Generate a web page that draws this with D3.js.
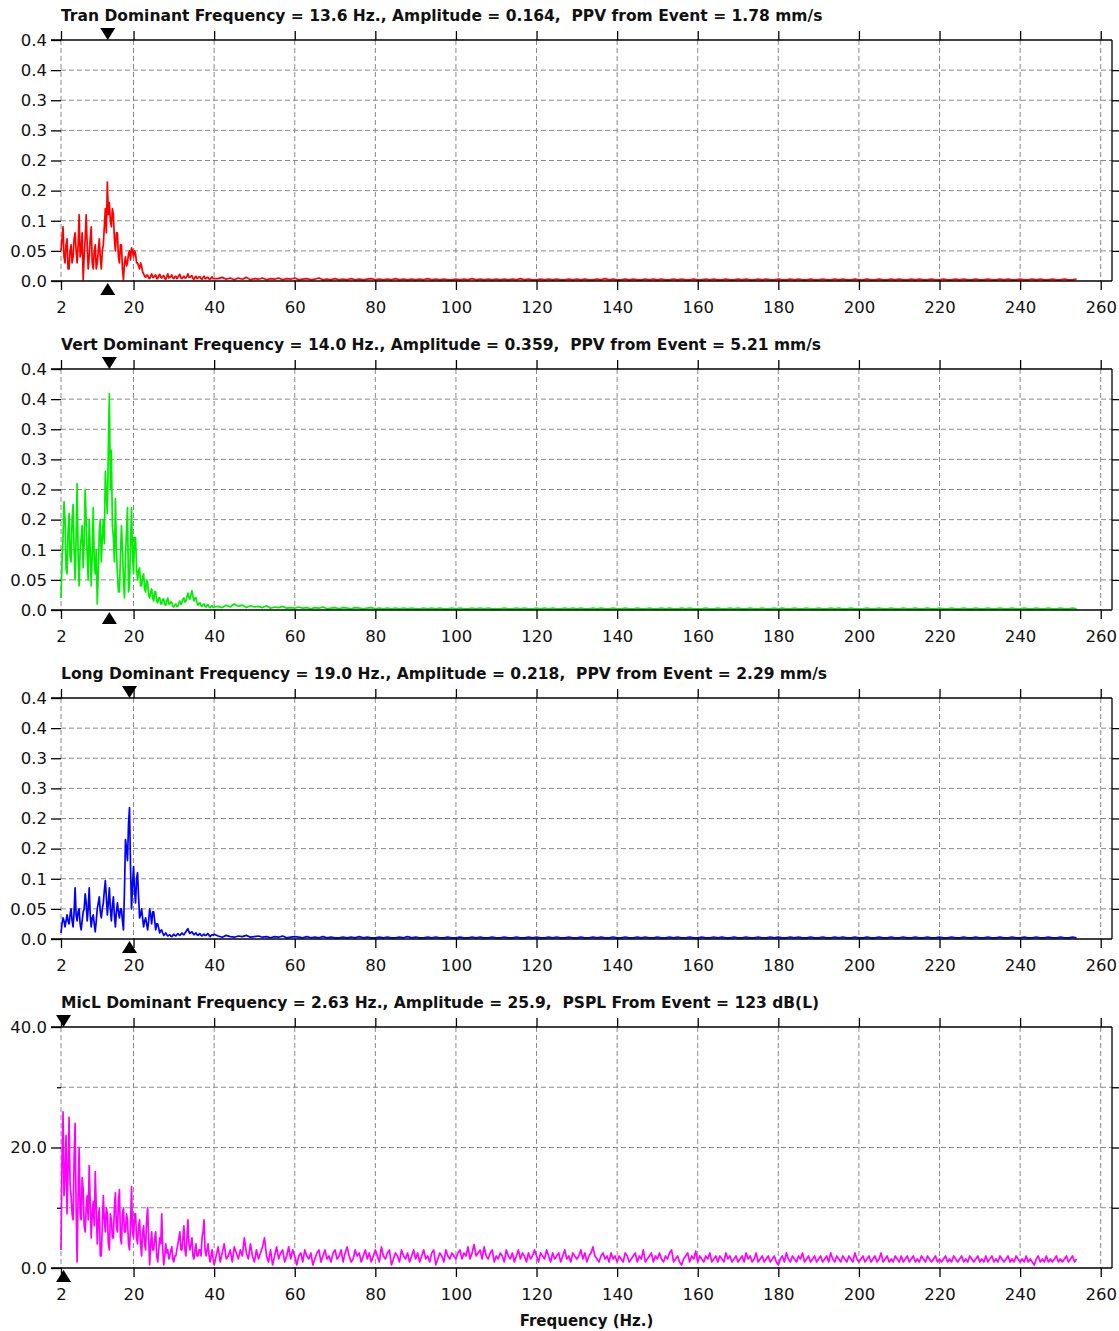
<!DOCTYPE html>
<html><head><meta charset="utf-8">
<script src="https://cdn.jsdelivr.net/npm/d3@7/dist/d3.min.js"></script>
<style>body{margin:0;background:#fff}svg{display:block}</style>
</head><body>
<svg id="chart" width="1119" height="1331"></svg>
<script>
// ---------- data ----------
const channels = ["Tran", "Vert", "Long", "MicL"];
const titles = [
  "Tran Dominant Frequency = 13.6 Hz., Amplitude = 0.164,  PPV from Event = 1.78 mm/s",
  "Vert Dominant Frequency = 14.0 Hz., Amplitude = 0.359,  PPV from Event = 5.21 mm/s",
  "Long Dominant Frequency = 19.0 Hz., Amplitude = 0.218,  PPV from Event = 2.29 mm/s",
  "MicL Dominant Frequency = 2.63 Hz., Amplitude = 25.9,  PSPL From Event = 123 dB(L)"
];
const dominantFreq = [13.6, 14.0, 19.0, 2.63];
const colors = ["#ff0000", "#00ee00", "#0000ff", "#ff00ff"];
const xTicks = [2, 20, 40, 60, 80, 100, 120, 140, 160, 180, 200, 220, 240, 260];
const xTitle = "Frequency (Hz.)";
const seisYTicks = [0, 0.05, 0.1, 0.15, 0.2, 0.25, 0.3, 0.35, 0.4];
const seisYLabels = ["0.0", "0.05", "0.1", "0.2", "0.2", "0.3", "0.3", "0.4", "0.4"];
const micYTicks = [0, 10, 20, 30, 40];
const micYMajor = [0, 20, 40];
const micYLabels = ["0.0", "20.0", "40.0"];

// low band: 2.00 .. 40.00 Hz every 0.25 Hz (all channels)
const lowStart = 2, lowStep = 0.25;
// high band: seismic 41 .. 254 Hz every 1 Hz ; mic 40.5 .. 254 Hz every 0.5 Hz
const highStart = [41, 41, 41, 40.5];
const highStep = [1, 1, 1, 0.5];

const tranLow = [
 .05,.07,.09,.04,.03,.06,.07,.02,
 .02,.05,.06,.03,.04,.07,.08,.05,
 .03,.06,.11,.04,.05,.08,.002,.04,
 .07,.11,.06,.02,.04,.07,.09,.03,
 .02,.05,.06,.02,.03,.05,.07,.04,
 .02,.05,.06,.09,.12,.08,.164,.11,
 .13,.1,.09,.12,.11,.07,.05,.08,
 .08,.04,.03,.06,.06,.02,.002,.03,
 .04,.025,.03,.045,.05,.035,.055,.05,
 .04,.05,.045,.03,.03,.025,.02,.03,
 .025,.015,.012,.008,.006,.01,.01,.005,
 .004,.008,.012,.006,.006,.009,.01,.004,
 .004,.009,.011,.006,.005,.008,.009,.004,
 .003,.007,.012,.005,.006,.008,.01,.005,
 .004,.007,.008,.004,.006,.009,.011,.005,
 .004,.006,.008,.005,.005,.008,.012,.006,
 .006,.008,.009,.004,.003,.006,.008,.004,
 .005,.007,.007,.004,.003,.006,.008,.004,
 .004,.006,.006,.003,.003,.005,.007,.004,
 .004];
const tranHigh = [
 .004,.006,.003,.005,.002,.005,.003,.006,.002,.004,
 .003,.005,.002,.004,.003,.005,.002,.004,.003,.005,
 .002,.003,.004,.002,.003,.005,.002,.003,.002,.004,
 .002,.003,.002,.004,.002,.003,.002,.003,.004,.002,
 .003,.002,.003,.002,.004,.002,.003,.002,.003,.002,
 .003,.002,.004,.002,.003,.002,.003,.002,.002,.003,
 .002,.003,.002,.004,.002,.003,.002,.003,.002,.003,
 .002,.003,.002,.003,.002,.004,.002,.003,.002,.002,
 .003,.002,.003,.002,.003,.002,.002,.003,.002,.003,
 .002,.003,.002,.002,.003,.002,.004,.002,.003,.002,
 .002,.003,.002,.003,.002,.002,.003,.002,.003,.002,
 .003,.002,.002,.003,.002,.003,.002,.002,.003,.002,
 .002,.003,.002,.003,.002,.002,.003,.002,.002,.003,
 .002,.003,.002,.002,.003,.002,.003,.002,.002,.003,
 .002,.002,.003,.002,.003,.002,.002,.003,.002,.002,
 .003,.002,.002,.003,.002,.003,.002,.002,.003,.002,
 .002,.003,.002,.002,.003,.002,.002,.003,.002,.003,
 .002,.002,.003,.002,.003,.002,.002,.003,.002,.002,
 .003,.002,.002,.003,.002,.003,.002,.002,.003,.002,
 .002,.003,.002,.002,.003,.002,.003,.002,.002,.003,
 .002,.002,.003,.002,.003,.002,.002,.003,.002,.002,
 .003,.002,.002,.003];

const vertLow = [
 .02,.08,.12,.18,.15,.07,.06,.13,
 .16,.09,.08,.15,.175,.1,.05,.12,
 .21,.09,.04,.1,.12,.14,.07,.11,
 .2,.15,.09,.05,.15,.1,.04,.09,
 .17,.08,.06,.1,.01,.06,.13,.15,
 .08,.12,.15,.11,.23,.19,.16,.27,
 .359,.2,.265,.14,.12,.08,.185,.1,
 .06,.03,.03,.09,.14,.1,.05,.02,
 .09,.13,.17,.03,.04,.11,.17,.09,
 .06,.12,.12,.07,.05,.065,.07,.04,
 .04,.055,.06,.035,.03,.05,.045,.025,
 .02,.03,.035,.02,.015,.03,.03,.015,
 .012,.02,.02,.01,.01,.018,.018,.009,
 .008,.015,.02,.01,.01,.014,.012,.006,
 .005,.008,.01,.006,.006,.012,.015,.009,
 .012,.018,.02,.013,.015,.022,.028,.02,
 .018,.026,.032,.022,.015,.02,.02,.012,
 .008,.011,.012,.007,.006,.009,.01,.006,
 .005,.008,.009,.005,.004,.006,.007,.004,
 .005];
const vertHigh = [
 .006,.004,.008,.005,.01,.006,.008,.004,.007,.005,
 .006,.004,.007,.003,.005,.004,.006,.003,.004,.003,
 .005,.003,.004,.002,.004,.003,.005,.002,.003,.004,
 .002,.004,.003,.002,.004,.003,.002,.003,.004,.002,
 .003,.002,.003,.002,.003,.002,.003,.002,.003,.002,
 .002,.003,.002,.003,.002,.003,.002,.002,.003,.002,
 .003,.002,.002,.003,.002,.003,.002,.003,.002,.002,
 .002,.003,.002,.002,.003,.002,.003,.002,.002,.003,
 .002,.003,.002,.003,.002,.002,.003,.002,.003,.002,
 .003,.002,.002,.003,.002,.003,.002,.002,.003,.002,
 .002,.003,.002,.002,.003,.002,.002,.003,.002,.002,
 .003,.002,.003,.002,.002,.003,.002,.003,.002,.002,
 .002,.003,.002,.002,.003,.002,.002,.003,.002,.003,
 .002,.002,.003,.002,.002,.003,.002,.002,.003,.002,
 .003,.002,.002,.003,.002,.002,.003,.002,.002,.003,
 .002,.002,.003,.002,.003,.002,.002,.003,.002,.002,
 .002,.003,.002,.002,.003,.002,.002,.003,.002,.002,
 .003,.002,.002,.003,.002,.002,.003,.002,.002,.003,
 .002,.002,.003,.002,.002,.003,.002,.002,.003,.002,
 .002,.003,.002,.002,.003,.002,.002,.003,.002,.002,
 .003,.002,.002,.003,.002,.002,.003,.002,.002,.003,
 .002,.002,.003,.002];

const longLow = [
 .01,.025,.035,.03,.02,.03,.04,.03,
 .025,.04,.05,.03,.02,.045,.085,.04,
 .03,.045,.05,.025,.015,.03,.045,.05,
 .075,.06,.03,.05,.085,.04,.02,.035,
 .04,.025,.012,.03,.05,.06,.07,.045,
 .035,.05,.06,.08,.097,.07,.04,.06,
 .085,.05,.03,.055,.07,.04,.02,.045,
 .06,.045,.035,.05,.05,.03,.015,.08,
 .165,.15,.13,.19,.218,.12,.05,.09,
 .12,.08,.06,.1,.11,.07,.035,.04,
 .05,.035,.02,.03,.035,.025,.015,.03,
 .05,.04,.025,.045,.045,.03,.015,.025,
 .025,.018,.01,.014,.015,.01,.006,.008,
 .01,.007,.005,.006,.007,.005,.004,.006,
 .008,.006,.005,.007,.009,.007,.006,.008,
 .01,.008,.007,.01,.012,.015,.017,.012,
 .009,.011,.012,.009,.007,.009,.01,.007,
 .006,.008,.009,.006,.005,.007,.008,.006,
 .006,.008,.009,.006,.004,.006,.007,.006,
 .008];
const longHigh = [
 .005,.003,.006,.004,.003,.005,.004,.006,.003,.004,
 .005,.003,.004,.002,.004,.003,.005,.002,.003,.004,
 .003,.002,.004,.002,.003,.002,.004,.002,.003,.002,
 .002,.003,.002,.003,.002,.004,.002,.003,.002,.002,
 .003,.002,.003,.002,.002,.003,.002,.004,.002,.003,
 .002,.002,.003,.002,.003,.002,.002,.003,.002,.002,
 .003,.002,.002,.003,.002,.003,.002,.002,.003,.002,
 .002,.003,.002,.002,.003,.002,.002,.003,.002,.003,
 .002,.002,.003,.002,.003,.002,.002,.003,.002,.002,
 .003,.002,.002,.003,.002,.003,.002,.002,.003,.002,
 .002,.003,.002,.002,.003,.002,.003,.002,.002,.003,
 .002,.002,.003,.002,.003,.002,.002,.003,.002,.002,
 .003,.002,.002,.003,.002,.003,.002,.002,.003,.002,
 .002,.003,.002,.002,.003,.002,.002,.003,.002,.003,
 .002,.002,.003,.002,.003,.002,.002,.003,.002,.002,
 .003,.002,.002,.003,.002,.003,.002,.002,.003,.002,
 .002,.003,.002,.002,.003,.002,.002,.003,.002,.002,
 .003,.002,.002,.003,.002,.002,.003,.002,.002,.003,
 .002,.002,.003,.002,.002,.003,.002,.002,.003,.002,
 .002,.003,.002,.002,.003,.002,.002,.003,.002,.002,
 .003,.002,.002,.003,.002,.002,.003,.002,.002,.003,
 .002,.002,.003,.002];

const micLow = [
 3,18,25.9,12,15,22,9,16,
 25,14,12,9,8,18,24,10,
 1,12,20,9,8,15,13,7,
 6,10,12,8,17,11,5,9,
 11,7,16,10,4,8,10,2,
 2,7,12,8,6,10,9,4,
 3,9,8,5,5,10,12.5,7,
 6,11,13,5,4,9,10,6,
 6,9,8,4,3,7,13.5,6,
 5,9,9,5,4,7,8,4,
 2,6,7,4,3,8,10,5,
 0.5,4,6,3,3,5,6,2,
 1,3,5,4,9,3,0.5,2,
 4,2.5,3,1.5,2,3,3.5,1.5,
 1,2,2,3,4,5,6,3,
 3,5,7,3,2,5,8,4,
 3,4,5,2,1.5,3,4,2,
 2,3,3,2,5,6,8,3,
 2,3,4,2,1,2,3,1.5,
 0.5];
const micHigh = [
 2,3.5,1,2.5,4,1.5,2,3,1,3.5,2.5,1.5,3,2,5,2.5,1.5,4,2,1,
 3,1.5,2.5,3.5,5,2,1,3,0.5,2,3.5,1.5,2.5,3,1,2,3.5,1.5,3,2,
 0.5,2,2.5,1,3,2,1.5,2.5,0.5,1.5,2.5,3,1,2,3,1.5,2,1,2.5,3,
 1.5,2,3,1,2.5,3.5,2,1,1.5,3,2,2.5,1,2,3,1.5,2.5,1,2,3,
 2,1,3.5,2,1.5,2.5,3,0.5,1.5,2.5,2,1,3,2,1.5,2.5,1,2,3,1.5,
 2.5,1,2,3,1.5,2,1,2.5,3,0.5,1.5,2.5,2,1,3,2,1.5,2.5,2,1.5,
 2.5,3,1.5,2.5,2,3.5,1.5,2.5,3.9,2,2.5,3,1.5,3.5,2,1.5,2.5,3,1,2,
 1.5,2.5,2,1,3,2,1.5,2.5,1,2,3,1.5,2.5,2,1,2.5,1.5,2,3,2,
 1,2.5,2,1.5,3,2,1,2.5,1.5,2,2.5,1,2,3,1.5,2,1,2.5,2,1.5,
 2,3,1.5,2.5,1,2,2.5,3.5,2,1.5,1,2,2.5,1.5,2,1,2.5,1.5,2,1,
 2,1.5,1,2.5,2,1,1.5,2,2.5,1,2,1.5,3,1,1.5,2,2.5,1,2,1.5,
 2.5,1.5,1,2,1.5,2.5,3,1,1.5,2,1,0.5,1.5,2,2.5,1,2,1.5,2.8,1,
 2,1.5,1,2,1.5,2.5,1,1.5,2,1,2,1.5,1,2.5,1.5,2,1,1.5,2,1,
 1.5,2,1,2.5,1.5,2,1,1.5,2.5,1,1.5,2,1,1.5,2,1,1.5,2,1,0.5,
 1.5,2,1,2.5,1.5,1,2,1.5,1,2,1.5,2.5,1,1.5,2,1,1.5,2,1,1.5,
 2,1,1.5,2,1,2.5,1.5,1,2,1.5,1,2,1.5,1,2,1.5,1,2.5,1.5,1,
 1.5,2,1,1.5,2,1,1.5,2,1,1.5,2.5,1,1.5,2,1,1.5,1,2,1.5,1,
 2,1,1.5,2,1,1.5,2,1,1.5,1,2,1.5,1,2,1.5,1,1.5,2,1,1.5,
 1,1.5,2,1,1.5,1,2,1.5,1,1.5,2,1,1.5,1,2,1.5,1,1.5,2,1,
 1.5,1,2,1,1.5,2,1,1.5,1,2,1.5,1,1.5,2,1,1.5,1,2,1.5,1,
 1.5,1,2,1,1.5,1,0.5,1.5,2,1,1.5,1,2,1,1.5,1,1.5,2,1,1.5,
 1,1.5,2,1,1.5,2,1,1.5];

const seriesLow = [tranLow, vertLow, longLow, micLow];
const seriesHigh = [tranHigh, vertHigh, longHigh, micHigh];

// ---------- layout ----------
const svg = d3.select("#chart");
const FONT = "'DejaVu Sans', Verdana, sans-serif";
const plotLeft = 61, plotRight = 1112, tickLeft = 51;
const firstTop = 40, panelStep = 329, panelH = 241;

const x = d3.scaleLinear().domain([2, 262.8]).range([plotLeft, plotRight]);

channels.forEach((ch, i) => {
  const top = firstTop + i * panelStep;
  const bottom = top + panelH;
  const isMic = i === 3;
  const y = d3.scaleLinear().domain(isMic ? [0, 40] : [0, 0.4]).range([bottom, top]);
  const yTicks = isMic ? micYTicks : seisYTicks;
  const g = svg.append("g");

  // grid
  g.append("g").selectAll("line").data(xTicks).join("line")
    .attr("x1", d => x(d)).attr("x2", d => x(d))
    .attr("y1", top).attr("y2", bottom)
    .attr("stroke", "#8a8a8a").attr("stroke-width", 1).attr("stroke-dasharray", "5,3");
  g.append("g").selectAll("line").data(yTicks.slice(1, -1)).join("line")
    .attr("x1", plotLeft).attr("x2", plotRight)
    .attr("y1", d => y(d)).attr("y2", d => y(d))
    .attr("stroke", "#8a8a8a").attr("stroke-width", 1).attr("stroke-dasharray", "5,3");

  // spectrum
  const pts = seriesLow[i].map((v, k) => ({f: lowStart + k * lowStep, v}))
    .concat(seriesHigh[i].map((v, k) => ({f: highStart[i] + k * highStep[i], v})));
  g.append("path").datum(pts)
    .attr("fill", "none").attr("stroke", colors[i]).attr("stroke-width", 1.7)
    .attr("stroke-linejoin", "round")
    .attr("d", d3.line().x(d => x(d.f)).y(d => y(d.v)));

  // frame lines
  const frame = g.append("g").attr("stroke", "#000").attr("stroke-width", 1.3);
  frame.append("line").attr("x1", tickLeft).attr("x2", plotRight).attr("y1", top).attr("y2", top);
  frame.append("line").attr("x1", tickLeft).attr("x2", plotRight).attr("y1", bottom).attr("y2", bottom);
  frame.append("line").attr("x1", plotRight).attr("x2", plotRight).attr("y1", top).attr("y2", bottom);

  // left axis
  const leftAx = g.append("g").attr("transform", `translate(${plotLeft},0)`)
    .call(d3.axisLeft(y).tickValues(isMic ? micYMajor : seisYTicks).tickSize(10).tickPadding(4)
      .tickFormat((d, k) => (isMic ? micYLabels : seisYLabels)[k]));
  if (isMic) {
    g.append("g").attr("transform", `translate(${plotLeft},0)`)
      .call(d3.axisLeft(y).tickValues([10, 30]).tickSize(4).tickFormat(""))
      .call(a => a.select(".domain").remove());
  }
  leftAx.select(".domain").remove();
  leftAx.selectAll("text").attr("font-family", FONT).attr("font-size", 16.5).attr("fill", "#111");

  // right axis ticks
  g.append("g").attr("transform", `translate(${plotRight},0)`)
    .call(d3.axisRight(y).tickValues(yTicks.slice(1, -1)).tickSize(7).tickFormat(""))
    .call(a => a.select(".domain").remove());

  // top ticks
  g.append("g").attr("transform", `translate(0,${top})`)
    .call(d3.axisTop(x).tickValues(xTicks).tickSize(9).tickFormat(""))
    .call(a => a.select(".domain").remove());

  // bottom axis
  const bAx = g.append("g").attr("transform", `translate(0,${bottom})`)
    .call(d3.axisBottom(x).tickValues(xTicks).tickSize(9).tickPadding(11).tickFormat(d3.format("d")));
  bAx.select(".domain").remove();
  bAx.selectAll("text").attr("font-family", FONT).attr("font-size", 16.5).attr("fill", "#111");

  g.selectAll(".tick line").attr("stroke", "#000").attr("stroke-width", 1.3);

  // dominant frequency markers
  const cx = x(dominantFreq[i]);
  g.append("path")
    .attr("d", `M${cx - 7.5},${top - 12}L${cx + 7.5},${top - 12}L${cx},${top}Z`)
    .attr("fill", "#000");
  g.append("path")
    .attr("d", `M${cx - 7.5},${bottom + 14}L${cx + 7.5},${bottom + 14}L${cx},${bottom + 2}Z`)
    .attr("fill", "#000");

  // title
  g.append("text").attr("x", plotLeft).attr("y", top - 19)
    .attr("font-family", FONT).attr("font-size", 15.5).attr("font-weight", "bold")
    .attr("fill", "#111").style("white-space", "pre")
    .text(titles[i]);
});

svg.append("text")
  .attr("x", (plotLeft + plotRight) / 2).attr("y", 1326)
  .attr("text-anchor", "middle")
  .attr("font-family", FONT).attr("font-size", 15).attr("font-weight", "bold")
  .attr("fill", "#111").text(xTitle);
</script>
</body></html>
